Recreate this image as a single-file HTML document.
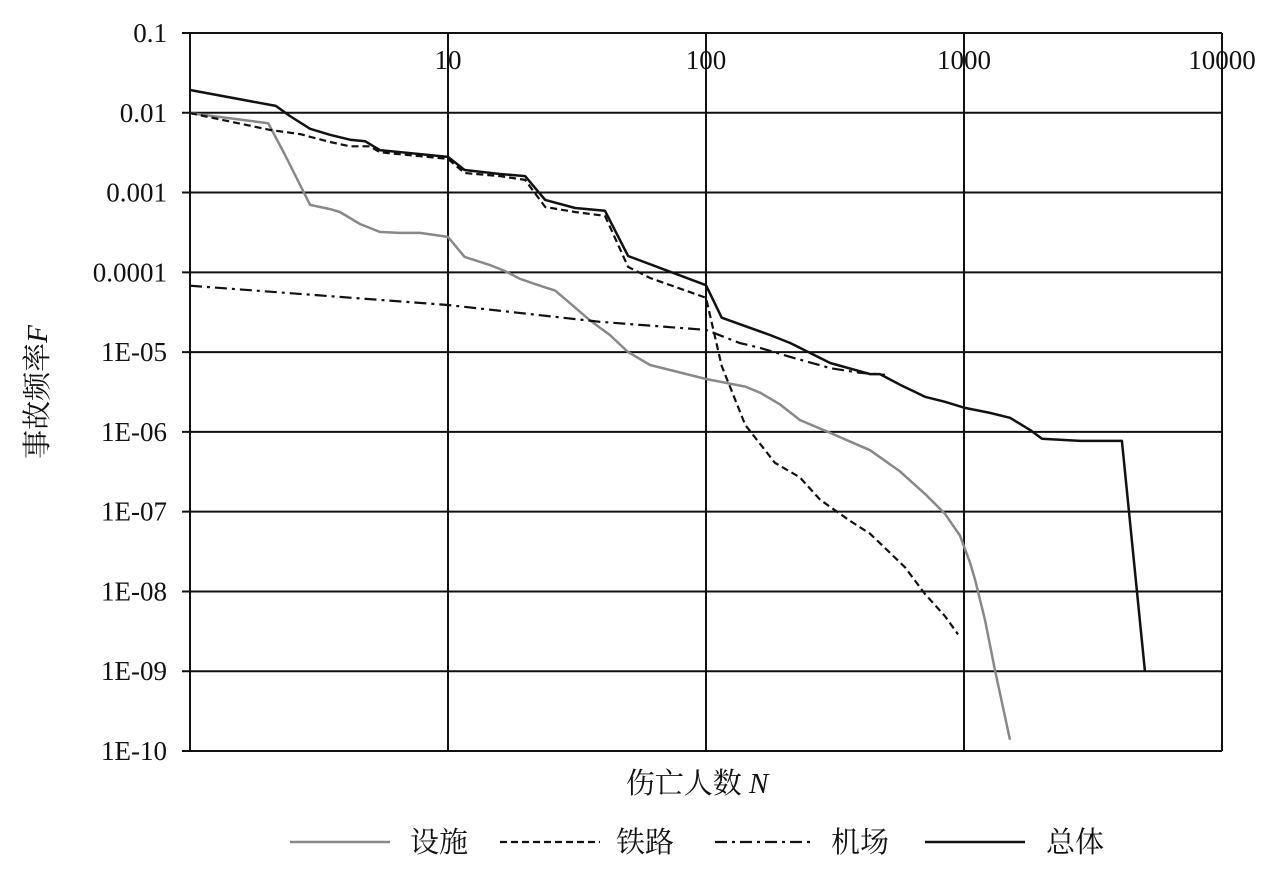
<!DOCTYPE html>
<html><head><meta charset="utf-8"><style>
body{margin:0;background:#fff;}
svg{display:block;}
text{font-family:"Liberation Serif","Noto Serif CJK SC",serif;fill:#111;}
</style></head><body>
<svg id="chart" width="1280" height="872"></svg>
<script>
const xTicks=[10,100,1000,10000];
const xTickLabels=["10","100","1000","10000"];
const yTicks=[0.1,0.01,0.001,0.0001,1e-5,1e-6,1e-7,1e-8,1e-9,1e-10];
const yTickLabels=["0.1","0.01","0.001","0.0001","1E-05","1E-06","1E-07","1E-08","1E-09","1E-10"];
const totalN=[1,2.15,2.44,2.92,3.49,4.17,4.77,5.45,10,11.6,15.9,19.9,23.8,31.1,40.6,49.9,100,115,177,212,303,432,472,565,706,844,1009,1261,1507,1803,2006,2818,4093,5030];
const totalF=[0.0193,0.0122,0.0091,0.0063,0.0053,0.0046,0.0044,0.0034,0.0028,0.00192,0.00171,0.00161,0.00081,0.00064,0.00059,0.00016,6.9e-5,2.7e-5,1.64e-5,1.3e-5,7.3e-6,5.3e-6,5.3e-6,3.9e-6,2.75e-6,2.38e-6,2.0e-6,1.73e-6,1.5e-6,1.06e-6,8.2e-7,7.7e-7,7.7e-7,9.8e-10];
const railN=[1,2.04,2.67,3.49,4.17,4.98,5.45,10,11.6,15.9,19.9,23.8,31.1,40.6,49.9,60.7,100,115,142,185,231,277,361,432,494,591,706,844,948];
const railF=[0.0099,0.0061,0.0054,0.0043,0.0038,0.0038,0.0032,0.00264,0.00176,0.00161,0.00144,0.00066,0.00057,0.00051,0.000117,8.5e-5,4.8e-5,6.7e-6,1.22e-6,4.1e-7,2.7e-7,1.41e-7,7.7e-8,5.3e-8,3.5e-8,2.0e-8,9.3e-9,4.9e-9,2.9e-9];
const facN=[1,2.01,2.33,2.92,3.49,3.81,4.56,5.45,6.51,7.79,10,11.6,14.5,16.6,19.0,22.7,26.0,29.7,35.5,42.4,49.9,60.7,100,142,162,194,231,303,395,432,565,706,844,965,1055,1104,1206,1318,1507];
const facF=[0.0099,0.0074,0.003,0.0007,0.00062,0.00057,0.000404,0.00032,0.000312,0.000312,0.000278,0.000156,0.000124,0.000104,8.3e-5,6.8e-5,5.9e-5,4.1e-5,2.5e-5,1.64e-5,1.0e-5,6.9e-6,4.6e-6,3.7e-6,3.1e-6,2.2e-6,1.41e-6,9.7e-7,6.7e-7,5.9e-7,3.2e-7,1.67e-7,9.4e-8,5.0e-8,2.3e-8,1.4e-8,4.4e-9,1.04e-9,1.38e-10];
const airN=[1,10,38.8,100,135,162,212,303,395,494];
const airF=[6.8e-5,3.9e-5,2.4e-5,1.9e-5,1.3e-5,1.13e-5,8.7e-6,6.3e-6,5.5e-6,5.2e-6];

const NS="http://www.w3.org/2000/svg";
const svg=document.getElementById('chart');
const X0=190,X1=1222,Y0=33,Y1=751;
function xs(n){return X0+(X1-X0)*Math.log10(n)/4;}
function ys(f){return Y0+(Y1-Y0)*(-1-Math.log10(f))/9;}
function mk(tag,attrs,parent){const e=document.createElementNS(NS,tag);for(const k in attrs)e.setAttribute(k,attrs[k]);(parent||svg).appendChild(e);return e;}

const grid=mk('g',{});


mk('line',{x1:X0,x2:X0,y1:Y0,y2:Y1,stroke:'#111','stroke-width':2},grid);
yTicks.forEach((v,i)=>{
  const y=ys(v);
  const l=mk('line',{x1:X0-8,x2:X1,y1:y,y2:y,stroke:'#111','stroke-width':2},grid);
  
  
  const t=mk('text',{x:167,y:y+9,'text-anchor':'end','font-size':27});
  t.textContent=yTickLabels[i];
  
  
});
xTicks.forEach((v,i)=>{
  const x=xs(v);
  const l=mk('line',{x1:x,x2:x,y1:Y0,y2:Y1,stroke:'#111','stroke-width':2},grid);
  
  
  const t=mk('text',{x:x,y:69,'text-anchor':'middle','font-size':27});
  t.textContent=xTickLabels[i];
  
  
});
function series(N,F,style,name){
  const d=N.map((n,i)=>(i?'L':'M')+xs(n).toFixed(1)+','+ys(F[i]).toFixed(1)).join('');
  const p=mk('path',Object.assign({d:d,fill:'none','stroke-linejoin':'round'},style));
  
  
}
series(facN,facF,{stroke:'#888','stroke-width':2.5},'series-facility');
series(airN,airF,{stroke:'#111','stroke-width':2.2,'stroke-dasharray':'12,5,3,5'},'series-airport');
series(railN,railF,{stroke:'#111','stroke-width':2.2,'stroke-dasharray':'7,4'},'series-railway');
series(totalN,totalF,{stroke:'#111','stroke-width':2.5},'series-total');
</script>
<div style="position:absolute;left:0;top:0;width:1280px;height:872px;pointer-events:none">
<svg width="1280" height="872">
<text transform="translate(47,392) rotate(-90)" text-anchor="middle" font-size="29">事故频率<tspan font-style="italic">F</tspan></text>
<text x="697" y="793" text-anchor="middle" font-size="29">伤亡人数 <tspan font-style="italic">N</tspan></text>
<g font-size="29">
<g><line x1="290" x2="390" y1="842" y2="842" stroke="#888" stroke-width="2.5"/><text x="410" y="852">设施</text></g>
<g><line x1="500" x2="600" y1="842" y2="842" stroke="#111" stroke-width="2.2" stroke-dasharray="7,4"/><text x="616" y="852">铁路</text></g>
<g><line x1="715" x2="815" y1="842" y2="842" stroke="#111" stroke-width="2.2" stroke-dasharray="12,5,3,5"/><text x="831" y="852">机场</text></g>
<g><line x1="925" x2="1025" y1="842" y2="842" stroke="#111" stroke-width="2.5"/><text x="1046" y="852">总体</text></g>
</g>
</svg></div>
</body></html>
